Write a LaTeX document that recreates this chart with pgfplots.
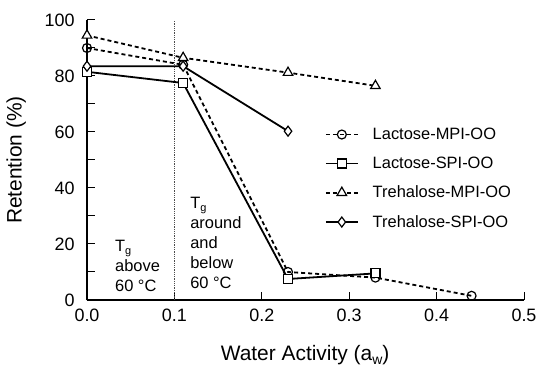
\documentclass[border=0pt]{standalone}
\usepackage{pgfplots}
\pgfplotsset{compat=1.18}
\usepackage{fontspec}
\setmainfont{Liberation Sans}
\newcommand{\Tg}{T\raisebox{-0.35ex}{\fontsize{11}{11}\selectfont g}}
\begin{document}
\begin{tikzpicture}
\begin{axis}[
  scale only axis, width=437bp, height=280bp,
  at={(0,0)}, anchor=south west,
  xmin=0, xmax=0.5, ymin=0, ymax=100,
  axis lines*=left,
  axis line style={line width=1.6bp},
  clip=false,
  xtick={0,0.1,0.2,0.3,0.4,0.5},
  ytick={0,20,40,60,80,100},
  minor ytick={10,30,50,70,90},
  tick align=inside,
  major tick length=8bp, minor tick length=8bp,
  every tick/.style={black, line width=1bp},
  /pgf/number format/assume math mode=true,
  xticklabel style={/pgf/number format/.cd, fixed, fixed zerofill, precision=1, /tikz/.cd, yshift=-5bp},
  yticklabel style={xshift=-9bp},
  ticklabel style={font=\fontsize{18}{18}\selectfont},
  xlabel={Water Activity (a\raisebox{-0.4ex}{\fontsize{14}{14}\selectfont w})},
  ylabel={Retention (\%)},
  label style={font=\fontsize{21}{21}\selectfont},
  x label style={at={(axis description cs:0.499,-0.196)}, anchor=center},
  y label style={at={(axis description cs:-0.162,0.5)}, anchor=center},
  legend style={at={(axis description cs:0.544,0.622)}, anchor=north west, draw=none, fill=none,
    font=\fontsize{16.5}{16.5}\selectfont, row sep=12bp, column sep=12bp, inner sep=0pt},
  legend cell align=left,
  legend image code/.code={
    \draw[mark repeat=2,mark phase=2,#1] plot coordinates {(0bp,0bp) (16bp,0bp) (32bp,0bp)};
  },
]
\addplot[forget plot, black!70, densely dotted, line width=0.8bp] coordinates {(0.1,0) (0.1,100)};
\addplot[black, line width=1.8bp, dash pattern=on 4bp off 3bp, mark=o, mark size=4.5bp,
  mark options={solid, fill=white, line width=1.2bp}] coordinates {
  (0,90) (0.11,84) (0.23,10) (0.33,8) (0.44,1.5)};
\addlegendentry{Lactose-MPI-OO}
\addplot[black, line width=1.8bp, mark=square*, mark size=4.5bp,
  mark options={solid, fill=white, line width=1.2bp}] coordinates {
  (0,81.5) (0.11,77.5) (0.23,7.5) (0.33,9.5)};
\addlegendentry{Lactose-SPI-OO}
\addplot[black, line width=1.8bp, dash pattern=on 4bp off 3bp, mark=triangle*, mark size=5.5bp,
  mark options={solid, fill=white, line width=1.2bp}] coordinates {
  (0,94.5) (0.11,86.5) (0.23,81.2) (0.33,76.5)};
\addlegendentry{Trehalose-MPI-OO}
\addplot[black, line width=1.8bp, mark=diamond*, mark size=5bp,
  mark options={solid, fill=white, line width=1.2bp}] coordinates {
  (0,83.5) (0.11,83.5) (0.23,60.3)};
\addlegendentry{Trehalose-SPI-OO}
\node[anchor=north west, align=left, inner sep=0pt, font=\fontsize{16.5}{20}\selectfont]
  at (axis cs:0.032,21.4) {\Tg\\above\\60 °C};
\node[anchor=north west, align=left, inner sep=0pt, font=\fontsize{16.5}{20}\selectfont]
  at (axis cs:0.118,36.8) {\Tg\\around\\and\\below\\60 °C};
\end{axis}
\path[use as bounding box] (-87bp,-68bp) rectangle (454bp,300bp);
\end{tikzpicture}
\end{document}
